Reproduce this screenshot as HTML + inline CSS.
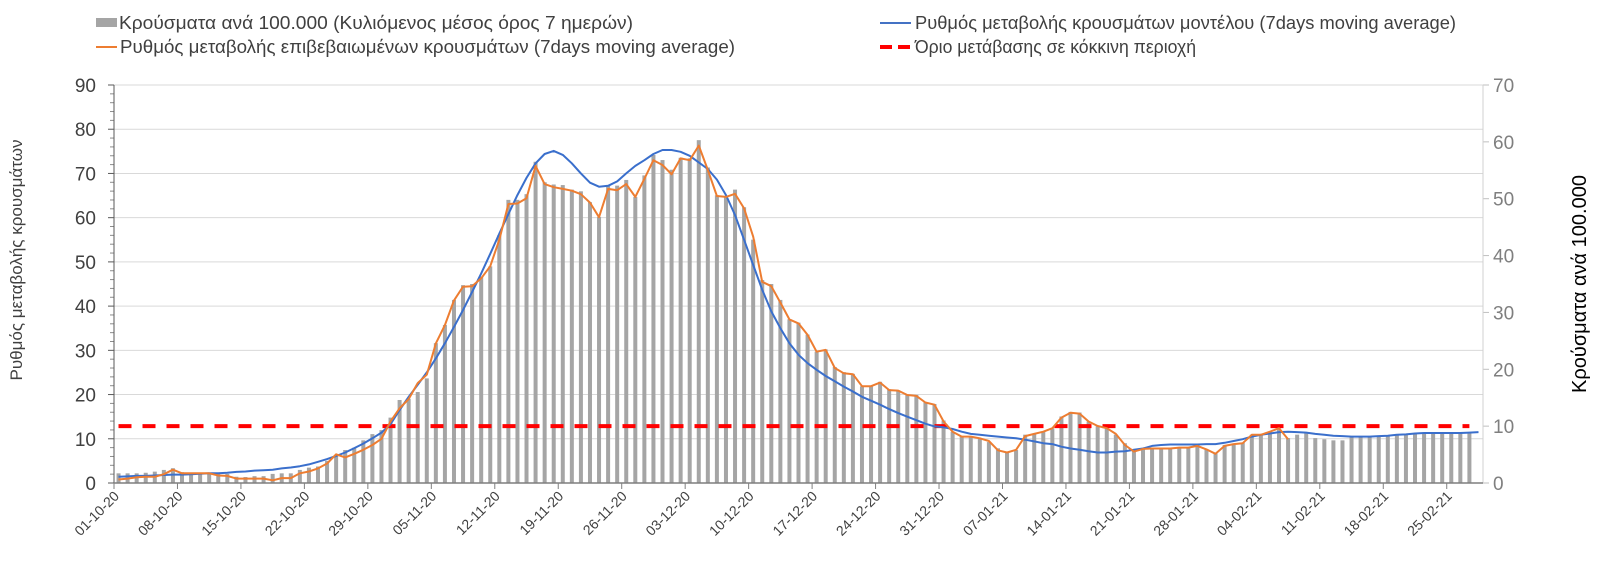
<!DOCTYPE html>
<html><head><meta charset="utf-8">
<style>
html,body{margin:0;padding:0;background:#fff;}
svg{display:block;font-family:"Liberation Sans","DejaVu Sans",sans-serif;}
</style></head>
<body>
<svg id="chart" width="1600" height="575" viewBox="0 0 1600 575" xmlns="http://www.w3.org/2000/svg">
  <g id="legend">
    <g>
      <rect x="96" y="18" width="21" height="9" fill="#a5a5a5"/>
      <text x="119" y="29" font-size="18" fill="#404040" textLength="514" lengthAdjust="spacingAndGlyphs">Κρούσματα ανά 100.000 (Κυλιόμενος μέσος όρος 7 ημερών)</text>
    </g>
    <g>
      <line x1="96" y1="47" x2="117" y2="47" stroke="#ed7d31" stroke-width="2"/>
      <text x="120" y="53" font-size="18" fill="#404040" textLength="615" lengthAdjust="spacingAndGlyphs">Ρυθμός μεταβολής επιβεβαιωμένων κρουσμάτων (7days moving average)</text>
    </g>
    <g>
      <line x1="880" y1="23" x2="911" y2="23" stroke="#4472c4" stroke-width="2"/>
      <text x="915" y="29" font-size="18" fill="#404040" textLength="541" lengthAdjust="spacingAndGlyphs">Ρυθμός μεταβολής κρουσμάτων μοντέλου (7days moving average)</text>
    </g>
    <g>
      <line x1="880" y1="47" x2="911" y2="47" stroke="#ff0000" stroke-width="4" stroke-dasharray="12,6"/>
      <text x="915" y="53" font-size="18" fill="#404040" textLength="281" lengthAdjust="spacingAndGlyphs">Όριο μετάβασης σε κόκκινη περιοχή</text>
    </g>
  </g>
  <text x="0" y="0" font-size="17" fill="#404040" text-anchor="middle" transform="translate(22,260) rotate(-90)">Ρυθμός μεταβολής κρουσμάτων</text>
  <text x="0" y="0" font-size="20" fill="#000" text-anchor="middle" transform="translate(1586,284) rotate(-90)">Κρούσματα ανά 100.000</text>
  <g id="grid"></g>
  <g id="bars"></g>
  <g id="lines"></g>
  <g id="axes"></g>
</svg>
<script>
const NS = "http://www.w3.org/2000/svg";
const leftTicks = [0,10,20,30,40,50,60,70,80,90];
const rightTicks = [0,10,20,30,40,50,60,70];
const dateLabels = ["01-10-20","08-10-20","15-10-20","22-10-20","29-10-20","05-11-20","12-11-20","19-11-20","26-11-20","03-12-20","10-12-20","17-12-20","24-12-20","31-12-20","07-01-21","14-01-21","21-01-21","28-01-21","04-02-21","11-02-21","18-02-21","25-02-21"];
// cases per 100k (right axis)
const casesValues = [1.7,1.7,1.7,1.8,2.0,2.3,2.6,1.9,1.7,1.7,1.6,1.6,1.6,1.1,1.05,1.2,1.2,1.6,1.7,1.7,2.3,2.7,2.9,
3.9,4.9,5.8,6.2,7.5,8.6,9.3,11.5,14.6,14.8,16.0,18.4,24.6,27.8,32.2,34.8,35.0,36.3,38.1,43.6,49.8,49.8,50.8,56.5,52.9,
52.5,52.4,51.6,51.3,49.4,46.8,52.3,52.3,53.3,50.3,54.1,57.7,56.8,55.1,57.2,57.1,60.3,55.5,50.6,50.5,51.6,48.5,42.8,35.7,35.0,32.2,28.8,28.2,26.1,23.1,23.5,20.4,19.5,19.2,17.0,17.0,17.8,16.5,16.3,15.5,15.5,14.2,13.9,11.0,
9.0,8.2,8.2,7.9,7.2,6.1,5.5,5.8,8.5,8.7,9.0,9.6,11.7,12.5,12.4,10.8,10.0,9.6,8.5,7.0,5.7,6.0,6.1,6.1,6.1,6.2,6.2,6.5,5.9,5.2,6.7,6.8,7.1,8.5,8.5,9.0,9.6,7.9,8.5,8.7,7.9,7.7,7.5,7.5,8.2,8.2,8.2,8.2,8.2,8.5,8.6,8.7,8.7,8.7,8.7,8.7,8.7,8.7];
// confirmed-case rate (left axis)
const confirmedRate = [0.8,1.0,1.3,1.4,1.4,2.0,3.0,2.2,2.2,2.2,2.2,1.7,1.6,1.0,1.0,1.0,1.0,0.6,1.1,1.1,2.2,2.6,3.3,4.4,6.5,5.8,6.6,7.5,8.6,10.0,
13.9,16.9,19.0,22.6,24.5,31.6,35.7,41.3,44.4,44.5,46.3,49.0,55.0,63.1,63.2,64.4,71.7,67.6,
66.9,66.5,66.1,65.3,63.4,60.1,66.5,66.2,67.6,64.7,68.8,73.0,71.9,69.8,73.4,73.0,76.3,70.8,64.9,64.7,65.4,62.1,55.7,45.5,44.5,40.8,37.0,36.1,33.5,29.7,30.1,26.0,24.8,24.6,21.9,21.9,22.7,21.0,20.9,19.9,19.7,18.2,17.7,13.9,
11.6,10.5,10.5,10.1,9.5,7.4,6.9,7.5,10.6,11.1,11.6,12.4,14.8,15.9,15.7,13.9,12.9,12.4,11.1,8.6,7.1,7.7,7.8,7.8,7.8,8.0,8.0,8.4,7.6,6.6,8.4,8.8,9.0,10.9,10.9,11.6,12.4,9.9];
// model rate (left axis)
const modelRate = [1.4,1.5,1.6,1.6,1.7,1.8,1.9,1.9,2.0,2.1,2.2,2.2,2.3,2.5,2.6,2.8,2.9,3.0,3.3,3.5,3.8,4.2,4.8,5.4,6.1,6.9,7.9,8.9,10.1,11.4,
13.3,16.5,19.5,22.2,25.0,28.2,31.6,35.3,39.1,43.2,47.4,51.8,56.4,60.8,65.1,69.0,72.3,74.4,75.1,
74.2,72.3,70.0,67.9,67.0,67.2,68.2,70.0,71.7,73.0,74.4,75.3,75.3,74.9,74.0,72.5,71.0,68.6,65.1,60.6,55.0,49.3,43.7,38.8,35.0,31.6,29.0,27.1,25.6,24.2,23.0,21.8,20.7,19.5,18.6,17.7,16.7,15.8,15.0,14.2,13.4,12.8,12.6,
12.2,11.6,11.1,10.9,10.7,10.5,10.3,10.1,9.8,9.4,9.0,8.8,8.2,7.8,7.5,7.2,6.9,6.9,7.1,7.2,7.5,7.8,8.4,8.6,8.7,8.7,8.7,8.7,8.8,8.8,9.1,9.5,9.9,10.5,10.9,11.2,11.5,11.6,11.5,11.4,11.1,10.9,10.7,10.6,10.5,10.5,10.5,10.6,10.7,10.9,11.0,11.2,11.3,11.3,11.3,11.3,11.3,11.4,11.5];
const thresholdValue = 10; // right axis
const thresholdCount = 150;

const X0 = 114, X1 = 1483, Y0 = 483, Y1 = 85, N = 151;
const step = (X1 - X0) / N;
const xC = i => X0 + step * (i + 0.5);
const yL = v => Y0 - v / 90 * (Y0 - Y1);
const yR = v => Y0 - v / 70 * (Y0 - Y1);

function mk(tag, attrs, parent) {
  const e = document.createElementNS(NS, tag);
  for (const k in attrs) e.setAttribute(k, attrs[k]);
  parent.appendChild(e);
  return e;
}
const grid = document.getElementById('grid');
const bars = document.getElementById('bars');
const lines = document.getElementById('lines');
const axes = document.getElementById('axes');

leftTicks.forEach(t => {
  if (t > 0) {
    const g = mk('line', {x1: X0, x2: X1, y1: yL(t), y2: yL(t), stroke: '#d9d9d9', 'stroke-width': 1}, grid);
    
    
  }
  const tk = mk('line', {x1: X0 - 6, x2: X0, y1: yL(t), y2: yL(t), stroke: '#595959', 'stroke-width': 1}, axes);
  
  
  const lb = mk('text', {x: 96, y: yL(t) + 7, 'font-size': 19, fill: '#404040', 'text-anchor': 'end'}, axes);
  lb.textContent = t;
  
  
});
for (let v = 2; v < 90; v += 2) {
  if (v % 10 === 0) continue;
  const m = mk('line', {x1: X0 - 4, x2: X0, y1: yL(v), y2: yL(v), stroke: '#8c8c8c', 'stroke-width': 1}, axes);
  
  
}
rightTicks.forEach(t => {
  const tk = mk('line', {x1: X1, x2: X1 + 6, y1: yR(t), y2: yR(t), stroke: '#bfbfbf', 'stroke-width': 1}, axes);
  
  
  const lb = mk('text', {x: 1493, y: yR(t) + 7, 'font-size': 19, fill: '#7f7f7f'}, axes);
  lb.textContent = t;
  
  
});

casesValues.forEach((v, i) => {
  const h = Y0 - yR(v);
  const b = mk('rect', {x: xC(i) - 2, y: yR(v), width: 4, height: h, fill: '#a5a5a5'}, bars);
  
  
});

function poly(vals, yf, color, w, name, dash) {
  const pts = vals.map((v, i) => xC(i).toFixed(1) + ',' + yf(v).toFixed(1)).join(' ');
  const p = mk('polyline', {points: pts, fill: 'none', stroke: color, 'stroke-width': w, 'stroke-linejoin': 'round'}, lines);
  if (dash) p.setAttribute('stroke-dasharray', dash);
  
  
}
poly(Array(thresholdCount).fill(thresholdValue), yR, '#ff0000', 4, 'red-threshold-line', '13,11');
poly(modelRate, yL, '#3a6fcc', 2, 'model-rate-line');
poly(confirmedRate, yL, '#ed7d31', 2, 'confirmed-rate-line');

const la = mk('line', {x1: X0, x2: X0, y1: Y1, y2: Y0, stroke: '#595959', 'stroke-width': 1}, axes);


const ra = mk('line', {x1: X1, x2: X1, y1: Y1, y2: Y0, stroke: '#d0d0d0', 'stroke-width': 1}, axes);


const xa = mk('line', {x1: X0, x2: X1, y1: Y0, y2: Y0, stroke: '#7f7f7f', 'stroke-width': 1.5}, axes);



dateLabels.forEach((d, k) => {
  const x = X0 + step * 7 * k;
  const tk = mk('line', {x1: x, x2: x, y1: Y0, y2: Y0 + 6, stroke: '#7f7f7f', 'stroke-width': 1}, axes);
  
  
  const t = mk('text', {x: 0, y: 0, 'font-size': 14, fill: '#404040', 'text-anchor': 'end', transform: 'translate(' + (x + 6) + ',' + (Y0 + 14) + ') rotate(-45)'}, axes);
  t.textContent = d;
  
  
});
</script>
</body></html>
